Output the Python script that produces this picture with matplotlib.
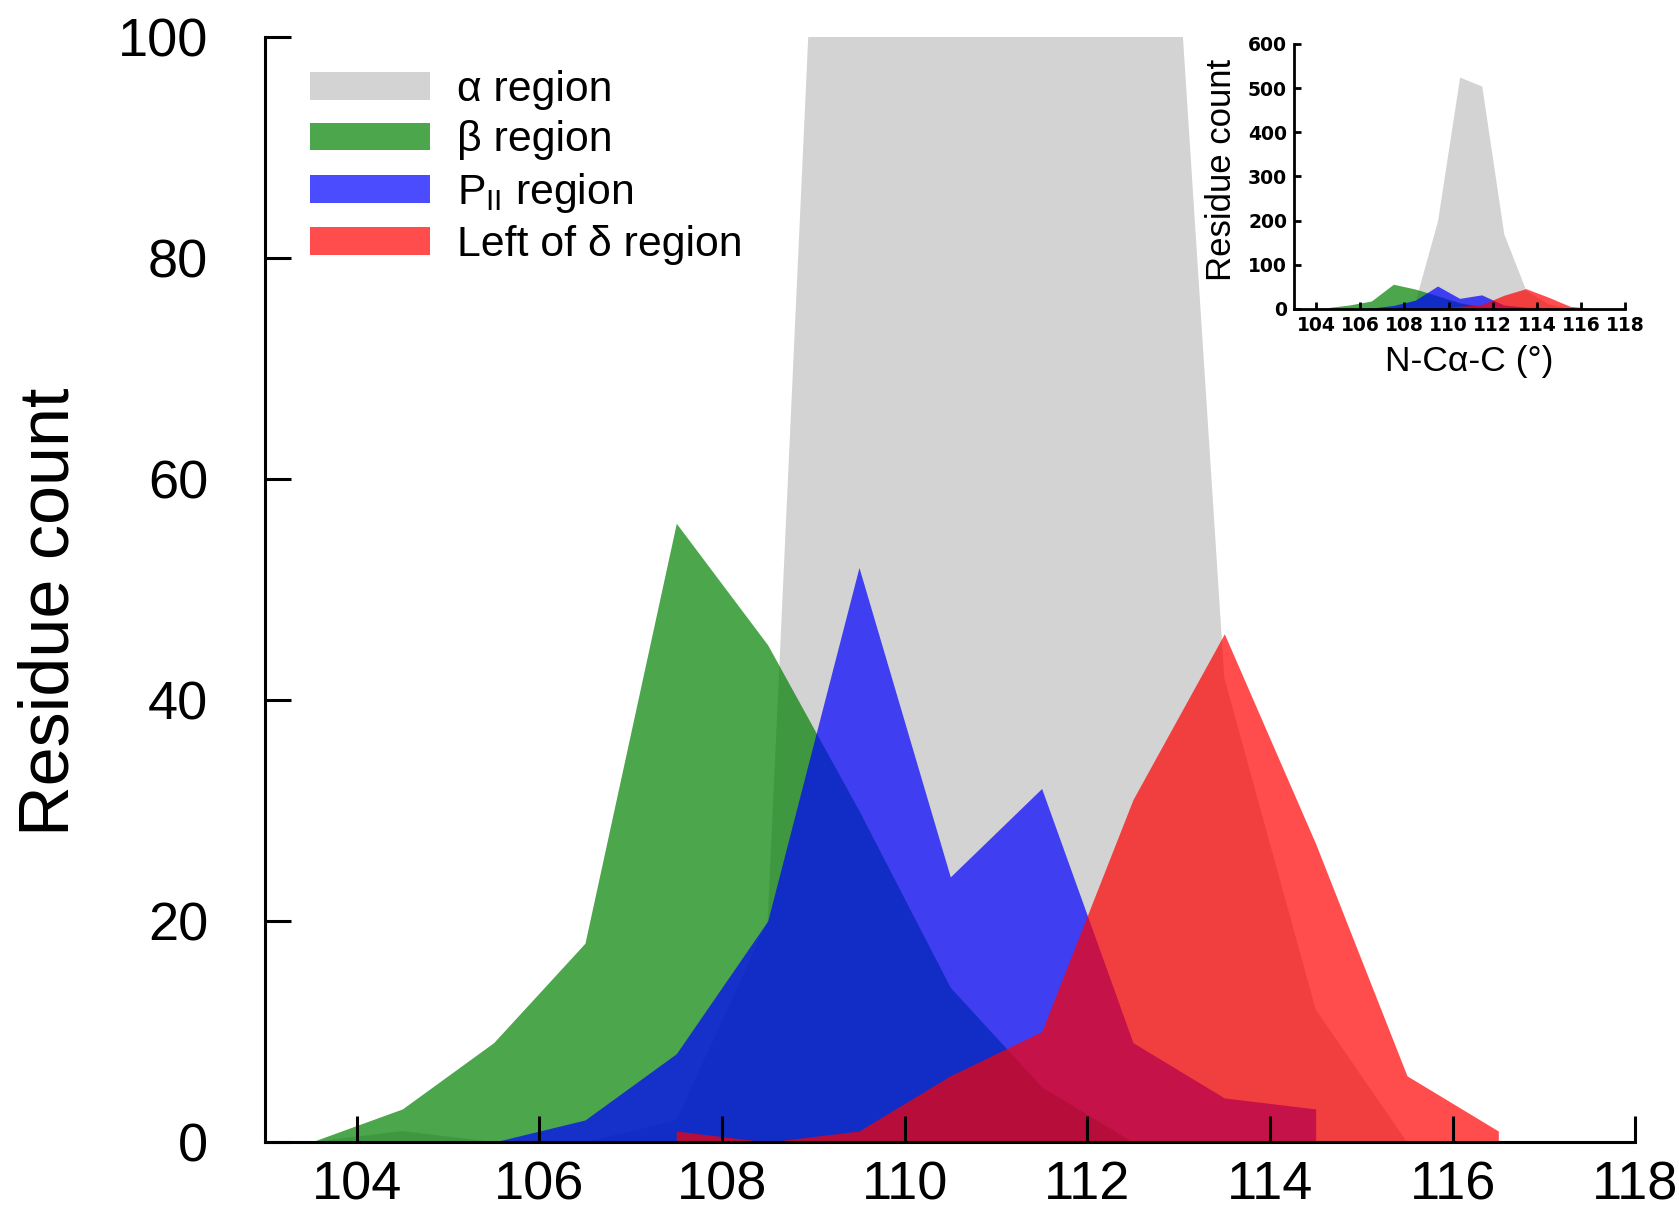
import matplotlib
matplotlib.use("Agg")
import matplotlib.pyplot as plt
import numpy as np

plt.rcParams['font.family'] = ['Liberation Sans', 'DejaVu Sans']
plt.rcParams['mathtext.fontset'] = 'custom'
plt.rcParams['mathtext.rm'] = 'Liberation Sans'
plt.rcParams['mathtext.it'] = 'Liberation Sans:italic'
plt.rcParams['mathtext.bf'] = 'Liberation Sans:bold'

# ---- data (bin centres in degrees, residue counts) ----
alpha_x = [103.5, 104.5, 105.5, 106.5, 107.5, 108.5, 109.5, 110.5, 111.5, 112.5, 113.5, 114.5, 115.5]
alpha_y = [0, 1, 0, 0, 2, 20, 200, 525, 505, 170, 42, 12, 0]

beta_x = [103.5, 104.5, 105.5, 106.5, 107.5, 108.5, 109.5, 110.5, 111.5, 112.5]
beta_y = [0, 3, 9, 18, 56, 45, 30, 14, 5, 0]

pii_x = [105.5, 106.5, 107.5, 108.5, 109.5, 110.5, 111.5, 112.5, 113.5, 114.5]
pii_y = [0, 2, 8, 20, 52, 24, 32, 9, 4, 3]

delta_x = [107.5, 108.5, 109.5, 110.5, 111.5, 112.5, 113.5, 114.5, 115.5, 116.5]
delta_y = [1, 0, 1, 6, 10, 31, 46, 27, 6, 1]

labels = [r"α region", r"β region", r"P$_{\mathrm{II}}$ region", r"Left of δ region"]
main_xticks = [104, 106, 108, 110, 112, 114, 116, 118]
main_yticks = [0, 20, 40, 60, 80, 100]
inset_yticks = [0, 100, 200, 300, 400, 500, 600]

series = [
    (alpha_x, alpha_y, "lightgray", 1.0),
    (beta_x, beta_y, "green", 0.7),
    (pii_x, pii_y, "blue", 0.7),
    (delta_x, delta_y, "red", 0.7),
]

fig = plt.figure(figsize=(16.79, 12.15), dpi=100)

# ---- main axes ----
ax = fig.add_axes([0.158, 0.060, 0.816, 0.9095])
handles = []
for (x, y, c, a), lab in zip(series, labels):
    h = ax.fill_between(x, 0, y, color=c, alpha=a, linewidth=0, label=lab)
    handles.append(h)

ax.set_xlim(103, 118)
ax.set_ylim(0, 100)
ax.set_xticks(main_xticks)
ax.set_yticks(main_yticks)
for s in ["top", "right"]:
    ax.spines[s].set_visible(False)
for s in ["left", "bottom"]:
    ax.spines[s].set_linewidth(2.2)
ax.tick_params(axis="both", direction="in", length=19, width=2.2, labelsize=39)
ax.tick_params(axis="y", pad=41)
ax.tick_params(axis="x", pad=13)
ax.set_ylabel("Residue count", fontsize=50.5)
ax.yaxis.set_label_coords(-0.157, 0.48)
ax.yaxis.label.set_va("center")

leg = ax.legend(handles=handles, labels=labels, loc="upper left",
                bbox_to_anchor=(0.033, 0.97), frameon=False, fontsize=30.8,
                handlelength=2.8, handleheight=0.62, handletextpad=0.62,
                labelspacing=0.24, borderpad=0.0, borderaxespad=0.0)

# ---- inset ----
ins = fig.add_axes([0.7707, 0.7457, 0.1973, 0.2181])
for x, y, c, a in series:
    ins.fill_between(x, 0, y, color=c, alpha=a, linewidth=0)
ins.set_xlim(103, 118)
ins.set_ylim(0, 600)
ins.set_xticks(main_xticks)
ins.set_yticks(inset_yticks)
for s in ["top", "right"]:
    ins.spines[s].set_visible(False)
for s in ["left", "bottom"]:
    ins.spines[s].set_linewidth(2.0)
ins.tick_params(axis="both", direction="in", length=5, width=2.0, pad=5)
for lab in ins.get_xticklabels() + ins.get_yticklabels():
    lab.set_fontfamily("DejaVu Sans")
    lab.set_fontweight("bold")
    lab.set_fontsize(13.5)
ins.set_ylabel("Residue count", fontsize=25)
ins.yaxis.set_label_coords(-0.22, 0.525)
ins.yaxis.label.set_va("center")
ins.set_xlabel("N-Cα-C (°)", fontsize=25.5)
ins.xaxis.set_label_coords(0.53, -0.2)
ins.xaxis.label.set_va("center")

fig.savefig("out.png", dpi=100)
